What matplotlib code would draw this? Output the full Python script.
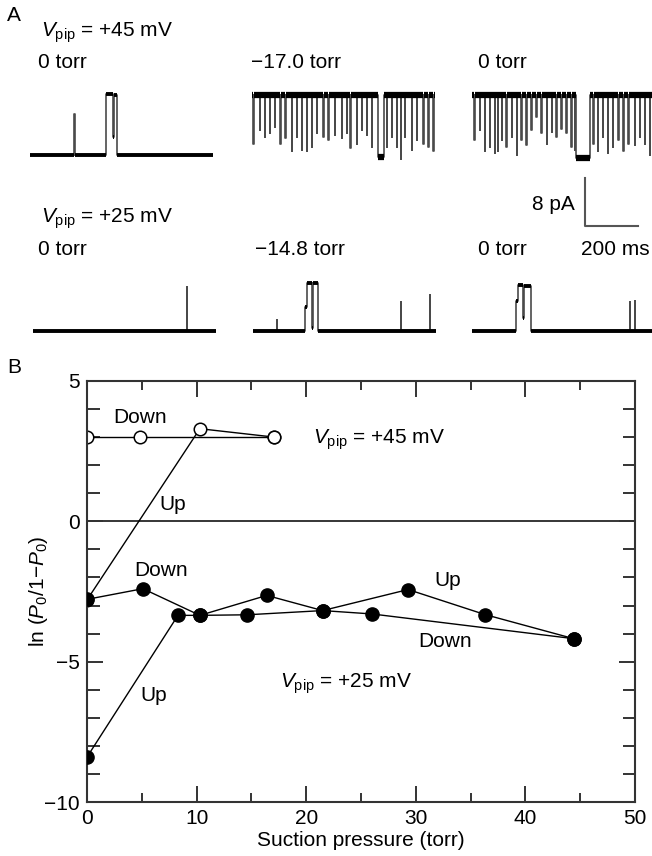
import matplotlib
matplotlib.use('Agg')
import matplotlib.pyplot as plt
import numpy as np

plt.rcParams['font.family'] = ['Liberation Sans', 'DejaVu Sans']
plt.rcParams['font.size'] = 15
plt.rcParams['mathtext.fontset'] = 'custom'
plt.rcParams['mathtext.rm'] = 'Liberation Sans'
plt.rcParams['mathtext.it'] = 'Liberation Sans:italic'

W, H = 652, 856

# ---- panel A: single-channel records (time in ms, current in pA) ----
TRACE_LEN = 690
OPEN45 = 10.0

# Vpip = +45 mV, 0 torr: one spike and one burst
t1_events = [(167, 1.5, 6.8), (287, 25, 10.2), (312, 4, 3.0), (316, 11, 10.0)]

# Vpip = +45 mV, -17.0 torr: mostly open, brief closures
t2_times = [5, 30, 49, 68, 87, 106, 125, 150, 169, 187, 206, 225, 244, 269, 288, 313,
            338, 357, 370, 395, 414, 433, 452, 508, 527, 546, 562, 577, 603, 622,
            646, 665, 684]
t2_levels = [1.9, 4.2, 3.0, 3.6, 4.7, 1.9, 2.8, 0.6, 3.0, 0.8, 0.6, 1.4, 3.6, 3.0, 2.5,
             3.3, 2.8, 3.6, 1.1, 1.9, 4.2, 3.3, 1.4, 1.4, 3.0, 1.4, -0.6, 3.0, 0.8,
             2.5, 1.9, 1.4, 0.6]
t2_long = (475, 24, -0.4)

# Vpip = +45 mV, back to 0 torr
t3_times = [8, 29, 48, 67, 86, 98, 113, 130, 149, 168, 186, 205, 224, 243, 262, 281,
            300, 318, 337, 356, 375, 388, 457, 475, 494, 513, 532, 551, 570, 589,
            614, 633, 652, 671]
t3_levels = [2.5, 4.2, 0.6, 1.4, 0.3, 0.6, 2.5, 1.4, 3.0, 0.0, 2.5, 1.7, 4.2, 6.4, 3.6,
             1.9, 3.9, 3.0, 4.4, 3.6, 1.4, 0.8, 1.9, 0.6, 3.0, 0.3, 1.4, 2.5, 0.6,
             1.9, 1.7, 3.0, 1.9, 0.0]
t3_long = (394, 50, -0.5)

# Vpip = +25 mV records
t4_events = [(579, 1.5, 7.4)]
t5_events = [(91, 1.2, 1.9), (197, 8, 4.0), (205, 18, 8.1), (223, 4, 0.6),
             (227, 17, 8.0), (558, 1.5, 4.9), (666, 1.5, 6.0)]
t6_events = [(167, 6, 5.0), (173, 20, 7.8), (193, 4, 2.2), (197, 25, 7.6),
             (595, 1.5, 4.9), (614, 1.5, 5.1)]

# ---- panel B: ln(Po/1-Po) vs suction pressure ----
up45_x = [0, 10.3, 17.1]
up45_y = [-2.8, 3.3, 3.0]
down45_x = [17.1, 4.8, 0]
down45_y = [3.0, 3.0, 3.0]

up25_x = [0, 8.3, 10.3, 14.6, 21.5, 29.3, 36.3, 44.4]
up25_y = [-8.4, -3.35, -3.35, -3.33, -3.18, -2.43, -3.32, -4.18]
down25_x = [44.4, 26.0, 21.5, 16.4, 10.3, 5.1, 0]
down25_y = [-4.18, -3.3, -3.18, -2.64, -3.35, -2.40, -2.78]


def rect(left, top, w, h):
    return [left / W, 1 - (top + h) / H, w / W, h / H]


def build(t_end, base, events):
    xs, ys = [0.0], [base]
    for t0, dur, lev in sorted(events):
        if ys[-1] != base and xs[-1] != t0:
            xs.append(xs[-1]); ys.append(base)
        if ys[-1] == base:
            xs += [t0, t0]; ys += [base, lev]
        else:
            xs.append(t0); ys.append(lev)
        xs.append(t0 + dur); ys.append(lev)
    if ys[-1] != base:
        xs.append(xs[-1]); ys.append(base)
    xs.append(t_end); ys.append(base)
    return np.array(xs, float), np.array(ys, float)


def draw_trace(ax, base, events, band_lw=2.8):
    xs, ys = build(TRACE_LEN, base, events)
    ax.plot(xs, ys, color='#4a4a4a', lw=1.2)
    bx, by = [], []
    for i in range(len(xs) - 1):
        if ys[i] == ys[i + 1] and xs[i + 1] - xs[i] >= 4:
            bx += [xs[i], xs[i + 1], np.nan]
            by += [ys[i], ys[i + 1], np.nan]
    ax.plot(bx, by, color='k', lw=band_lw, solid_capstyle='butt')
    ax.set_xlim(0, TRACE_LEN)
    ax.set_ylim(-3, 13)
    ax.axis('off')


fig = plt.figure(figsize=(W / 100, H / 100), dpi=100)

lay = fig.add_axes([0, 0, 1, 1])
lay.set_xlim(0, W)
lay.set_ylim(H, 0)
lay.axis('off')

row1_top, row2_top = 77, 253.5
trace_w, trace_h = 183, 96
traces = [
    (30, row1_top, 0, t1_events, 2.8),
    (252, row1_top, OPEN45,
     [(t, 1.5, l) for t, l in zip(t2_times, t2_levels)] + [t2_long], 4.5),
    (472, row1_top, OPEN45,
     [(t, 1.5, l) for t, l in zip(t3_times, t3_levels)] + [t3_long], 4.5),
    (33, row2_top, 0, t4_events, 2.8),
    (253, row2_top, 0, t5_events, 2.8),
    (472, row2_top, 0, t6_events, 2.8),
]
for left, top, base, ev, blw in traces:
    tax = fig.add_axes(rect(left, top, trace_w, trace_h))
    draw_trace(tax, base, ev, blw)

# scale bar: 8 pA, 200 ms
sb = fig.add_axes(rect(585, 178, 53, 48))
sb.plot([0, 0, 200], [8, 0, 0], color='#555555', lw=1.5, clip_on=False)
sb.set_xlim(0, 200)
sb.set_ylim(0, 8)
sb.axis('off')

kw = dict(va='baseline', ha='left', fontsize=15)
lay.text(7, 21, 'A', **kw)
lay.text(7, 373, 'B', **kw)
lay.text(41, 37, r'$V_{\mathrm{pip}}$ = +45 mV', **kw)
lay.text(38, 68, '0 torr', **kw)
lay.text(251, 68, '\u221217.0 torr', **kw)
lay.text(478, 68, '0 torr', **kw)
lay.text(41, 223, r'$V_{\mathrm{pip}}$ = +25 mV', **kw)
lay.text(38, 255, '0 torr', **kw)
lay.text(255, 255, '\u221214.8 torr', **kw)
lay.text(478, 255, '0 torr', **kw)
lay.text(581, 255, '200 ms', **kw)
lay.text(575, 210, '8 pA', va='baseline', ha='right', fontsize=15)

# ---- panel B ----
ax = fig.add_axes(rect(87, 381, 548, 421))
ax.axhline(0, color='k', lw=1.1, zorder=1)
ax.plot(up45_x, up45_y, color='k', lw=1.0, marker='o', ms=9, mfc='white',
        mec='k', mew=1.1, zorder=2)
ax.plot(down45_x, down45_y, color='k', lw=1.0, marker='o', ms=9, mfc='white',
        mec='k', mew=1.1, zorder=2)
ax.plot(up25_x, up25_y, color='k', lw=1.0, marker='o', ms=9.5, mfc='k', mec='k', zorder=3)
ax.plot(down25_x, down25_y, color='k', lw=1.0, marker='o', ms=9.5, mfc='k', mec='k', zorder=3)

ax.set_xlim(0, 50)
ax.set_ylim(-10, 5)
ax.set_xticks(np.arange(0, 51, 10))
ax.set_xticks(np.arange(5, 50, 10), minor=True)
ax.set_yticks([-10, -5, 0, 5])
ax.set_yticks(np.arange(-9, 5, 1), minor=True)
ax.tick_params(which='both', direction='in', top=True, right=True,
               color='#333333', width=1.4, labelsize=15)
ax.tick_params(which='major', length=11.5, pad=5)
ax.tick_params(axis='x', which='minor', length=6.5)
ax.tick_params(axis='y', which='minor', length=9)
for s in ax.spines.values():
    s.set_color('#333333')
    s.set_linewidth(1.5)

ax.set_xlabel('Suction pressure (torr)', fontsize=15, labelpad=2)
ax.set_ylabel('ln ($P_0$/1\u2212$P_0$)', fontsize=15)
ax.yaxis.set_label_coords(-0.068, 0.5)

tkw = dict(ha='center', va='baseline', fontsize=15)
ax.text(4.8, 3.49, 'Down', **tkw)
ax.text(7.85, 0.39, 'Up', **tkw)
ax.text(6.75, -1.96, 'Down', **tkw)
ax.text(32.9, -2.32, 'Up', **tkw)
ax.text(32.7, -4.49, 'Down', **tkw)
ax.text(6.1, -6.39, 'Up', **tkw)
ax.text(20.65, 2.77, r'$V_{\mathrm{pip}}$ = +45 mV', ha='left', va='baseline', fontsize=15)
ax.text(17.6, -5.92, r'$V_{\mathrm{pip}}$ = +25 mV', ha='left', va='baseline', fontsize=15)

fig.savefig('out.png', dpi=100)
